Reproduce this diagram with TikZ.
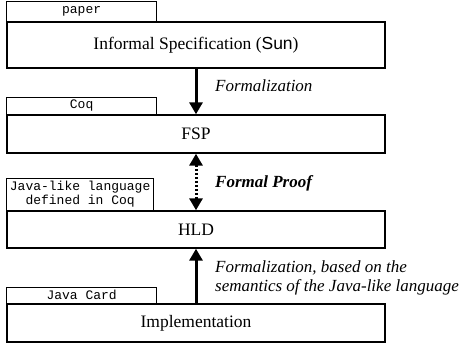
\documentclass[tikz,border=0pt]{standalone}
\usepackage{fontspec}
\setmainfont{Liberation Serif}
\setmonofont{Liberation Mono}
\newfontfamily\helv{Liberation Sans}
\usetikzlibrary{arrows.meta}
\begin{document}
\begin{tikzpicture}[x=1pt,y=-1pt,
  mainbox/.style={draw,line width=1.4pt,minimum width=378pt,inner sep=0pt,font=\fontsize{17.5}{20}\selectfont},
  tabbox/.style={draw,line width=0.7pt,inner sep=0pt,anchor=south west,font=\ttfamily\fontsize{13}{14}\selectfont,align=center},
  lbl/.style={anchor=west,font=\itshape\fontsize{17}{19}\selectfont,inner sep=0pt,align=left},
  bigarrow/.style={line width=3pt,-{Triangle[width=13pt,length=12pt]}},
]
\useasboundingbox (0,0) rectangle (461,345);
% main boxes
\node[mainbox,minimum height=46pt] (b1) at (196,45) {Informal Specification ({\helv Sun})};
\node[mainbox,minimum height=38pt] (b2) at (196,134) {FSP};
\node[mainbox,minimum height=37pt] (b3) at (196,229.5) {HLD};
\node[mainbox,minimum height=38pt] (b4) at (196,323) {Implementation};
% tabs
\node[tabbox,minimum width=150pt,minimum height=20pt] (t1) at (b1.north west) {paper};
\node[tabbox,minimum width=150pt,minimum height=17pt] (t2) at (b2.north west) {Coq};
\node[tabbox,minimum width=147pt,minimum height=32pt] (t3) at (b3.north west) {Java-like language\\defined in Coq};
\node[tabbox,minimum width=150pt,minimum height=16pt] (t4) at (b4.north west) {Java Card};
% arrows
\draw[bigarrow] (b1.south) -- (b2.north);
\draw[line width=3pt,dash pattern=on 2pt off 2pt,{Triangle[width=13pt,length=12pt]}-{Triangle[width=13pt,length=12pt]}] (b2.south) -- (b3.north);
\draw[bigarrow] (b4.north) -- (b3.south);
% labels
\node[lbl] (l1) at (215,86) {Formalization};
\node[lbl,font=\bfseries\itshape\fontsize{17}{19}\selectfont] (l2) at (215,183) {Formal Proof};
\node[lbl] (l3) at (215,277.5) {Formalization, based on the\\semantics of the Java-like language};
\end{tikzpicture}
\end{document}
